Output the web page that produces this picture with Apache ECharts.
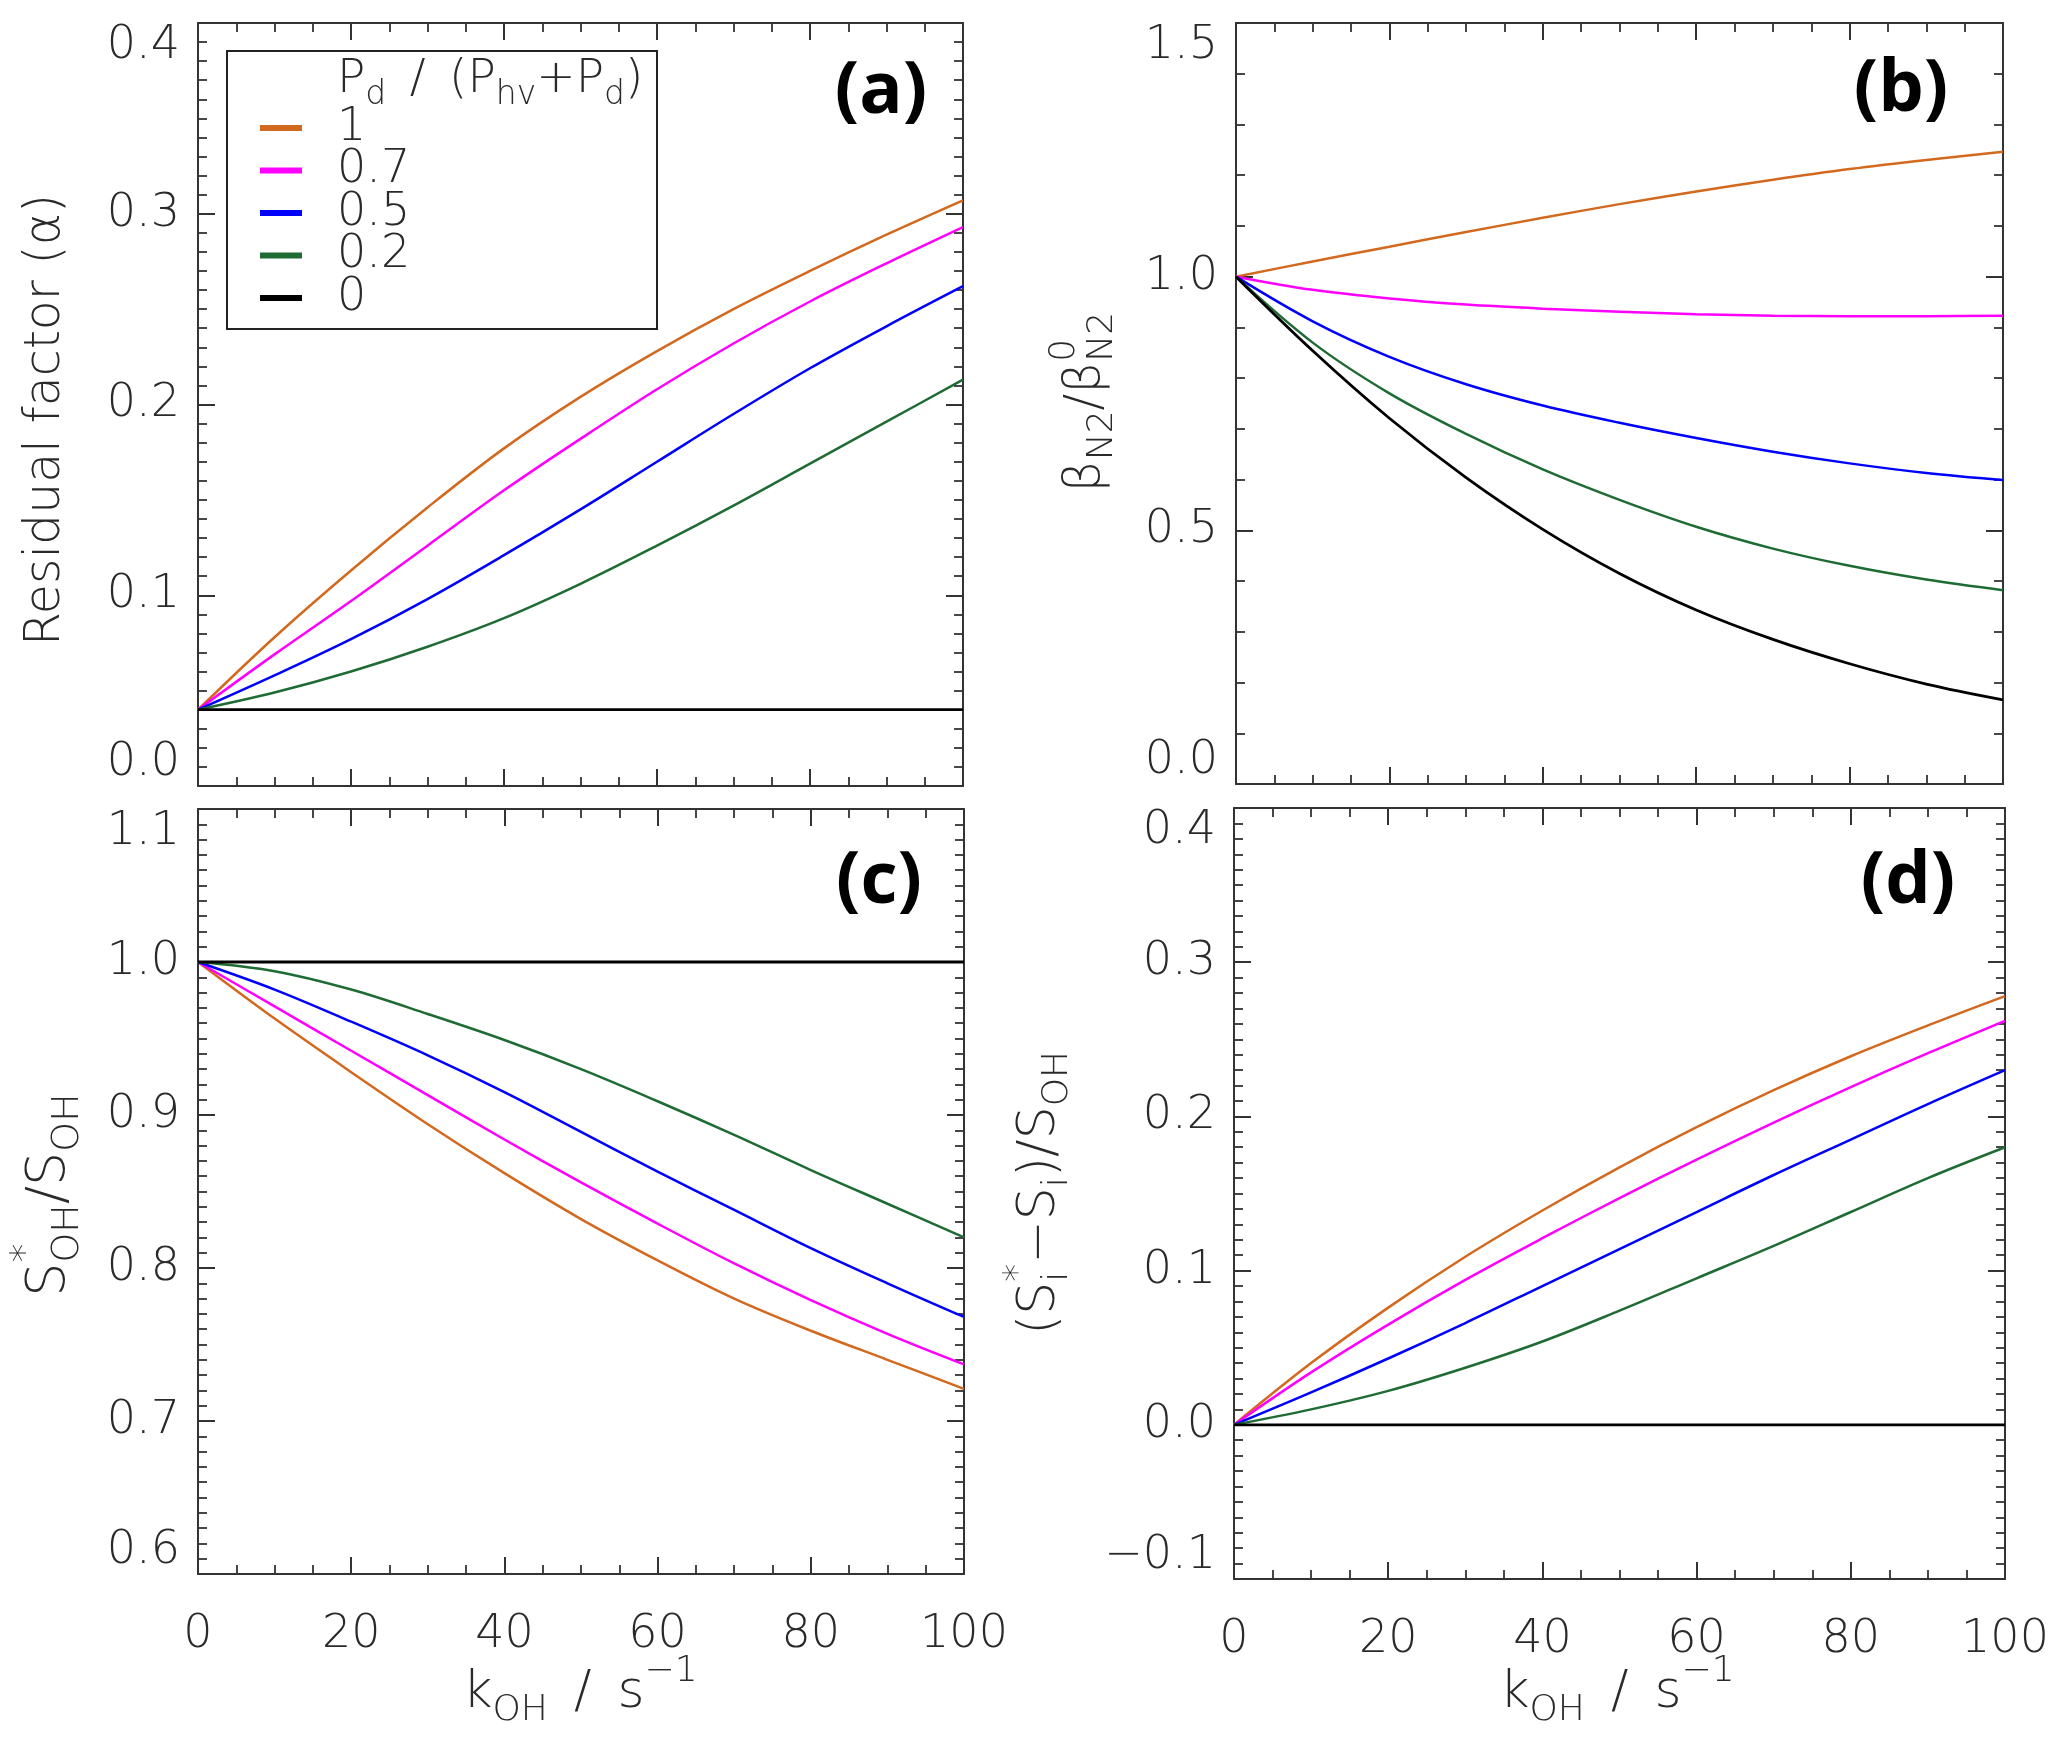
<!DOCTYPE html>
<html><head><meta charset="utf-8">
<script src="https://cdn.jsdelivr.net/npm/echarts@6/dist/echarts.min.js"></script>
<style>html,body{margin:0;padding:0;background:#fff}#chart{width:2067px;height:1746px}</style>
</head><body><div id="chart"></div>
<script>
// ---------------- data ----------------
const kValues = [0, 10, 20, 30, 40, 50, 60, 70, 80, 90, 100];
const seriesNames = ['1', '0.7', '0.5', '0.2', '0'];

// (a) residual factor alpha
const residual_1  = [0.040, 0.078, 0.113, 0.146, 0.177, 0.204, 0.228, 0.250, 0.270, 0.289, 0.307];
const residual_07 = [0.040, 0.069, 0.097, 0.126, 0.155, 0.182, 0.208, 0.232, 0.254, 0.274, 0.293];
const residual_05 = [0.040, 0.058, 0.077, 0.098, 0.121, 0.145, 0.170, 0.195, 0.219, 0.241, 0.262];
const residual_02 = [0.040, 0.049, 0.060, 0.073, 0.088, 0.106, 0.126, 0.147, 0.169, 0.191, 0.213];
const residual_0  = [0.040, 0.040, 0.040, 0.040, 0.040, 0.040, 0.040, 0.040, 0.040, 0.040, 0.040];

// (b) beta_N2 / beta0_N2
const beta_1  = [1.000, 1.030, 1.059, 1.088, 1.116, 1.143, 1.168, 1.191, 1.212, 1.230, 1.246];
const beta_07 = [1.000, 0.974, 0.957, 0.945, 0.937, 0.931, 0.926, 0.923, 0.922, 0.922, 0.923];
const beta_05 = [1.000, 0.912, 0.842, 0.788, 0.746, 0.712, 0.682, 0.655, 0.632, 0.613, 0.599];
const beta_02 = [1.000, 0.870, 0.770, 0.690, 0.620, 0.560, 0.507, 0.464, 0.430, 0.403, 0.382];
const beta_0  = [1.000, 0.854, 0.721, 0.604, 0.502, 0.415, 0.343, 0.285, 0.237, 0.197, 0.166];

// (c) S*_OH / S_OH
const sRatio_1  = [1.000, 0.963, 0.928, 0.894, 0.862, 0.832, 0.805, 0.780, 0.759, 0.740, 0.721];
const sRatio_07 = [1.000, 0.971, 0.942, 0.913, 0.884, 0.856, 0.829, 0.803, 0.779, 0.757, 0.737];
const sRatio_05 = [1.000, 0.982, 0.961, 0.939, 0.915, 0.889, 0.863, 0.838, 0.813, 0.790, 0.768];
const sRatio_02 = [1.000, 0.994, 0.982, 0.966, 0.949, 0.930, 0.909, 0.887, 0.864, 0.842, 0.820];
const sRatio_0  = [1.000, 1.000, 1.000, 1.000, 1.000, 1.000, 1.000, 1.000, 1.000, 1.000, 1.000];

// (d) (S*_i - S_i) / S_OH
const sDiff_1  = [0.000, 0.040, 0.076, 0.109, 0.139, 0.167, 0.193, 0.217, 0.239, 0.259, 0.278];
const sDiff_07 = [0.000, 0.034, 0.065, 0.094, 0.121, 0.147, 0.172, 0.196, 0.219, 0.241, 0.262];
const sDiff_05 = [0.000, 0.021, 0.043, 0.066, 0.090, 0.114, 0.138, 0.162, 0.185, 0.208, 0.230];
const sDiff_02 = [0.000, 0.010, 0.022, 0.037, 0.054, 0.074, 0.095, 0.116, 0.138, 0.160, 0.180];
const sDiff_0  = [0.000, 0.000, 0.000, 0.000, 0.000, 0.000, 0.000, 0.000, 0.000, 0.000, 0.000];

// axis ranges [min, max, interval, minorSplit]
const xRange = [0, 100, 20, 4];
const yRangeA = [0, 0.4, 0.1, 10];
const yRangeB = [0, 1.5, 0.5, 5];
const yRangeC = [0.6, 1.1, 0.1, 10];
const yRangeD = [-0.1, 0.4, 0.1, 10];
const panelLetters = ['(a)', '(b)', '(c)', '(d)'];

// ---------------- styling / layout ----------------
const colors = ['#D2691E', '#FF00FF', '#0000FF', '#1E6B34', '#000000'];
const FONT = '"DejaVu Sans", sans-serif';
const TXT = '#2a2a2a';
const AX = '#333333';
const TW = 200;

const panels = [
  { grid: {left: 198, top: 23, width: 765, height: 763}, y: yRangeA, data: [residual_1, residual_07, residual_05, residual_02, residual_0], xLabels: false },
  { grid: {left: 1236, top: 23, width: 767, height: 761}, y: yRangeB, data: [beta_1, beta_07, beta_05, beta_02, beta_0], xLabels: false },
  { grid: {left: 198, top: 809, width: 766, height: 765}, y: yRangeC, data: [sRatio_1, sRatio_07, sRatio_05, sRatio_02, sRatio_0], xLabels: true },
  { grid: {left: 1234, top: 808, width: 771, height: 771}, y: yRangeD, data: [sDiff_1, sDiff_07, sDiff_05, sDiff_02, sDiff_0], xLabels: true }
];

function fmtY(v) {
  const s = Math.abs(v).toFixed(1);
  return v < -1e-9 ? '\u2212' + s : s;
}
function fmtX(v) { return String(Math.round(v)); }

function axisCommon(range, showLabel, margin, formatter) {
  return {
    type: 'value', min: range[0], max: range[1], interval: range[2],
    axisLine: {show: true, onZero: false, lineStyle: {color: AX, width: 2}},
    axisTick: {show: true, inside: true, length: 17, lineStyle: {color: AX, width: 2}},
    minorTick: {show: true, splitNumber: range[3], length: 9, lineStyle: {color: AX, width: 1.8}},
    splitLine: {show: false}, minorSplitLine: {show: false},
    axisLabel: {show: showLabel, margin: margin, fontSize: 46, fontFamily: FONT, fontWeight: TW, color: TXT,
      formatter: formatter, hideOverlap: false}
  };
}

const grids = [], xAxes = [], yAxes = [], series = [];
panels.forEach((p, i) => {
  grids.push(Object.assign({outerBoundsMode: 'none', containLabel: false}, p.grid));
  xAxes.push(Object.assign(axisCommon(xRange, p.xLabels, 38, fmtX), {gridIndex: i, position: 'bottom'}));
  xAxes.push(Object.assign(axisCommon(xRange, false, 38, fmtX), {gridIndex: i, position: 'top'}));
  const yl = axisCommon(p.y, true, 18, fmtY);
  yl.axisLabel.verticalAlignMinLabel = 'bottom';
  yl.axisLabel.verticalAlignMaxLabel = 'top';
  yAxes.push(Object.assign(yl, {gridIndex: i, position: 'left'}));
  yAxes.push(Object.assign(axisCommon(p.y, false, 18, fmtY), {gridIndex: i, position: 'right'}));
  p.data.forEach((vals, s) => {
    series.push({
      type: 'line', name: seriesNames[s], xAxisIndex: 2 * i, yAxisIndex: 2 * i,
      data: kValues.map((k, j) => [k, vals[j]]),
      smooth: 0.35, showSymbol: false, symbol: 'none', animation: false,
      lineStyle: {color: colors[s], width: s === 4 ? 2.8 : 2.5},
      itemStyle: {color: colors[s]}, z: 2 + s
    });
  });
});

// ---------------- composite texts (sub/superscripts) ----------------
const mctx = document.createElement('canvas').getContext('2d');
function tw(str, size, weight) { mctx.font = weight + ' ' + size + 'px ' + FONT; return mctx.measureText(str).width; }

function composite(pieces, F, cx, cy, rotated, anchor, ratio) {
  const S = Math.round(F * (ratio || 0.7));
  let x = 0, lastStart = 0, lastEnd = 0;
  const kids = [];
  pieces.forEach(pc => {
    const t = pc[0], kind = pc[1], stack = pc[2];
    const size = kind === 'n' ? F : S;
    const w = tw(t, size, TW);
    let px = stack ? lastStart : x;
    let dy = 0;
    if (kind === 'sub') dy = F * 0.33;
    if (kind === 'sup') dy = -F * 0.42;
    kids.push({type: 'text', x: px, y: dy, silent: true,
      style: {text: t, fontSize: size, fontFamily: FONT, fontWeight: TW, fill: TXT,
              align: 'left', textAlign: 'left', verticalAlign: 'middle', textVerticalAlign: 'middle'}});
    if (stack) { x = Math.max(lastEnd, px + w); }
    else { lastStart = px; x = px + w; }
    lastEnd = x;
  });
  const W = x;
  const off = anchor === 'left' ? 0 : -W / 2;
  kids.forEach(k => { k.x += off; });
  return {type: 'group', x: cx, y: cy, rotation: rotated ? Math.PI / 2 : 0, children: kids};
}

const SP = '\u2002';
const graphics = [];
// legend frame and title
graphics.push({type: 'rect', shape: {x: 227, y: 51, width: 430, height: 278},
  style: {fill: 'none', stroke: '#222', lineWidth: 2}, z: 10});
graphics.push(composite([['P', 'n'], ['d', 'sub'], [SP + '/' + SP + '(P', 'n'], ['hv', 'sub'], ['+P', 'n'], ['d', 'sub'], [')', 'n']],
  47, 337, 80, false, 'left'));

// axis names
graphics.push(composite([['Residual factor (\u03B1)', 'n']], 49, 46, 420, true));
graphics.push(composite([['\u03B2', 'n'], ['N2', 'sub'], ['/\u03B2', 'n'], ['0', 'sup'], ['N2', 'sub', true]], 50, 1086, 402, true, null, 0.72));
graphics.push(composite([['S', 'n'], ['*', 'sup'], ['OH', 'sub', true], ['/S', 'n'], ['OH', 'sub']], 54, 50, 1195, true));
graphics.push(composite([['(S', 'n'], ['*', 'sup'], ['i', 'sub', true], ['\u2212S', 'n'], ['i', 'sub'], [')/S', 'n'], ['OH', 'sub']], 52, 1040, 1193, true));
const xNamePieces = [['k', 'n'], ['OH', 'sub'], [SP + '/' + SP + 's', 'n'], ['\u22121', 'sup']];
graphics.push(composite(xNamePieces, 52, 580, 1693, false));
graphics.push(composite(xNamePieces, 52, 1617, 1693, false));

// panel letters
const letterPos = [[881, 92], [1901, 90], [879, 882], [1908, 882]];
panelLetters.forEach((t, i) => {
  graphics.push({type: 'text', x: letterPos[i][0], y: letterPos[i][1], z: 10,
    style: {text: t, fontSize: 72, fontWeight: 'bold', fontFamily: '"Open Sans", sans-serif', fill: '#000',
            align: 'center', textAlign: 'center', verticalAlign: 'middle', textVerticalAlign: 'middle'}});
});

const chart = echarts.init(document.getElementById('chart'), null, {renderer: 'canvas'});
chart.setOption({
  backgroundColor: '#ffffff',
  animation: false,
  grid: grids, xAxis: xAxes, yAxis: yAxes, series: series,
  legend: {
    data: seriesNames, orient: 'vertical', left: 260, top: 105, padding: 0,
    itemWidth: 42, itemHeight: 6, itemGap: -3.5, icon: 'rect', selectedMode: false,
    textStyle: {fontSize: 46, lineHeight: 32, fontFamily: FONT, fontWeight: TW, color: TXT, padding: [0, 0, 0, 30]}
  },
  graphic: graphics
});
</script></body></html>
